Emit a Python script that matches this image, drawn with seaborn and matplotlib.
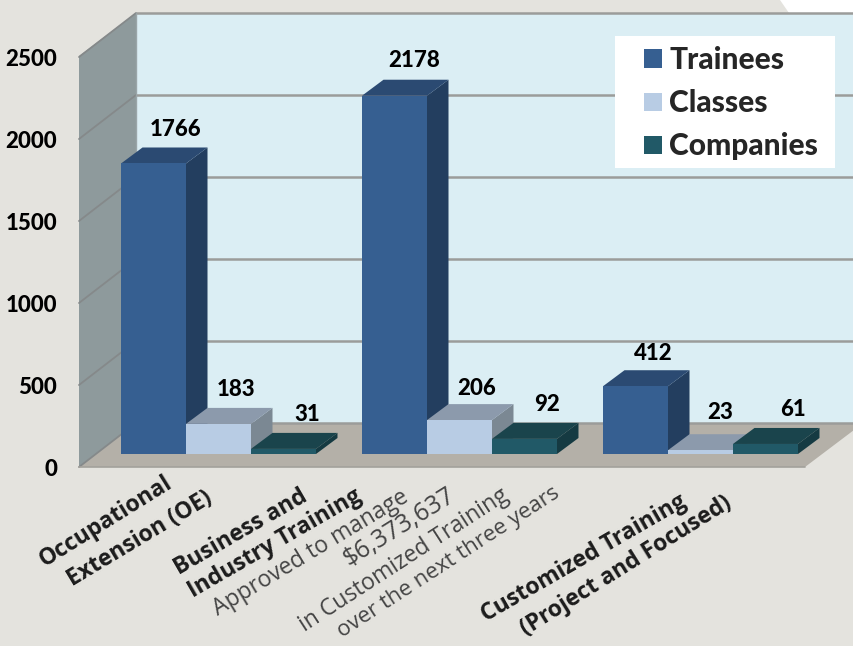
import matplotlib
matplotlib.use("Agg")
import matplotlib.pyplot as plt
from matplotlib.patches import Patch, Polygon, Rectangle
import pandas as pd
import seaborn as sns

# Data
categories = ["Occupational Extension (OE)", "Business and Industry Training", "Customized Training"]
trainees = [1766, 2178, 412]
classes = [183, 206, 23]
companies = [31, 92, 61]
series_names = ["Trainees", "Classes", "Companies"]
y_ticks = [0, 500, 1000, 1500, 2000, 2500]

front_colors = ["#365f91", "#b8cce4", "#215967"]
top_colors = ["#2b4a72", "#8c9aac", "#1a444c"]
side_colors = ["#233e5f", "#7b8893", "#153a42"]

W, H = 854, 646
BASE_PX = 454
PX_PER_UNIT = 0.1645
GROUP_PX = 241
FIRST_GROUP_PX = 218.5
DEPTH_X, DEPTH_Y = 21.5, 16

sns.set_theme(style="white")
plt.rcParams["font.family"] = ["Lato", "DejaVu Sans"]


# pixel positions of the picture -> data coordinates of the axes
def dx(px):
    return (px - FIRST_GROUP_PX) / GROUP_PX


def dy(py):
    return (BASE_PX - py) / PX_PER_UNIT


def poly(points, color, z, edge="none", lw=0):
    ax.add_patch(Polygon([(dx(a), dy(b)) for a, b in points], closed=True, facecolor=color,
                         edgecolor=edge, linewidth=lw, zorder=z))


df = pd.DataFrame({
    "category": categories * 3,
    "series": [s for s in series_names for _ in categories],
    "value": trainees + classes + companies,
})

fig = plt.figure(figsize=(W / 100, H / 100), dpi=100, facecolor="#e4e3de")
ax = fig.add_axes([0, 0, 1, 1])

# scenery of the 3D box
poly([(780, 0), (789, 13), (854, 13), (854, 0)], "white", 0.5)
poly([(136, 13), (854, 13), (854, 423), (136, 423)], "#dbeef4", 0.6)
poly([(79, 56), (136, 13), (136, 423), (79, 467)], "#8e9a9c", 0.7)
poly([(79, 467), (136, 423), (854, 423), (854, 430), (805, 467)], "#b4b0a8", 0.8)

sns.barplot(data=df, x="category", y="value", hue="series", order=categories, hue_order=series_names,
            palette=front_colors, saturation=1, width=0.809, gap=0, legend=False, linewidth=0, ax=ax)
ax.set_xlim(dx(0), dx(W))
ax.set_ylim(dy(H), dy(0))
ax.set_axis_off()

# grid lines on the walls and y labels
for v in y_ticks:
    back = 423 - v * 0.164
    front = 467 - v * 0.164
    ax.plot([dx(136), dx(854)], [dy(back), dy(back)], color="#9b9c9a", lw=1.8, zorder=1, solid_capstyle="butt")
    ax.plot([dx(79), dx(136)], [dy(front), dy(back)], color="#85898a", lw=1.3, zorder=1)
    ax.text(dx(57), dy(front + 3), str(v), ha="right", va="center", fontsize=16, fontweight=900, color="black")
ax.plot([dx(805), dx(79)], [dy(467), dy(467)], color="#a3a19b", lw=1.2, zorder=1)
ax.plot([dx(136), dx(136)], [dy(13), dy(423)], color="#9aa5a8", lw=1, zorder=1)

# depth faces for each bar, taken from the bars seaborn drew
label_nudges = [(22.5, 18), (18, 18), (23.5, 18), (20, 19), (17, 16), (22.5, 18), (17.5, 17), (19.5, 22), (27.5, 18)]
bars = []
for i, container in enumerate(ax.containers):
    for bar in container:
        bars.append((bar.get_x(), i, bar))
bars.sort(key=lambda b: b[0])

for n, (x0, i, bar) in enumerate(bars):
    left = bar.get_x() * GROUP_PX + FIRST_GROUP_PX
    right = left + bar.get_width() * GROUP_PX
    value = bar.get_height()
    top = BASE_PX - value * PX_PER_UNIT
    z = 3 + n
    poly([(right, top), (right + DEPTH_X, top - DEPTH_Y), (right + DEPTH_X, BASE_PX - DEPTH_Y), (right, BASE_PX)],
         side_colors[i], z)
    poly([(left, top), (left + DEPTH_X, top - DEPTH_Y), (right + DEPTH_X, top - DEPTH_Y), (right, top)],
         top_colors[i], z)
    bar.set_zorder(z + 0.5)
    nudge_x, nudge_y = label_nudges[n]
    ax.text(dx((left + right) / 2 + nudge_x), dy(top - DEPTH_Y - nudge_y), f"{value:.0f}", ha="center", va="center",
            fontsize=16, fontweight=900, color="black", zorder=40)

# legend on a white box
ax.add_patch(Rectangle((dx(615), dy(168)), 220 / GROUP_PX, 132 / PX_PER_UNIT, facecolor="white", edgecolor="none", zorder=45))
handles = [Patch(facecolor=c, edgecolor="none", label=s) for c, s in zip(front_colors, series_names)]
leg = ax.legend(handles=handles, loc="upper left", bbox_to_anchor=(644 / W, 1 - 46 / H), bbox_transform=fig.transFigure,
                frameon=False, borderaxespad=0, borderpad=0, prop={"size": 21.5, "weight": 900, "family": "Lato"},
                handlelength=0.6, handleheight=0.56, handletextpad=0.25, labelspacing=0.51)
leg.set_zorder(50)

# category labels, line by line
label_lines = [
    ("Occupational", 106, 522, 32, "bold", "#1c1c1c", 16.5),
    ("Extension (OE)", 140, 539, 31, "bold", "#1c1c1c", 16.5),
    ("Business and", 241, 532, 30, "bold", "#1c1c1c", 16.5),
    ("Industry Training", 275, 544, 30, "bold", "#1c1c1c", 16.5),
    ("Approved to manage", 311, 553, 31, "normal", "#444444", 16.5),
    ("$6,373,637", 399, 527, 32, "normal", "#444444", 18),
    ("in Customized Training", 404, 560, 33, "normal", "#444444", 16.5),
    ("over the next three years", 449, 562, 33, "normal", "#444444", 16),
    ("Customized Training", 584, 558, 30, "bold", "#1c1c1c", 16.5),
    ("(Project and Focused)", 626, 566, 32, "bold", "#1c1c1c", 16.5),
]
for line, px, py, angle, weight, color, size in label_lines:
    ax.text(dx(px), dy(py), line, rotation=angle, rotation_mode="anchor", ha="center", va="center",
            fontsize=size, fontweight=weight, color=color, family=["Open Sans", "DejaVu Sans"])

fig.savefig("out.png", dpi=100, facecolor=fig.get_facecolor())
